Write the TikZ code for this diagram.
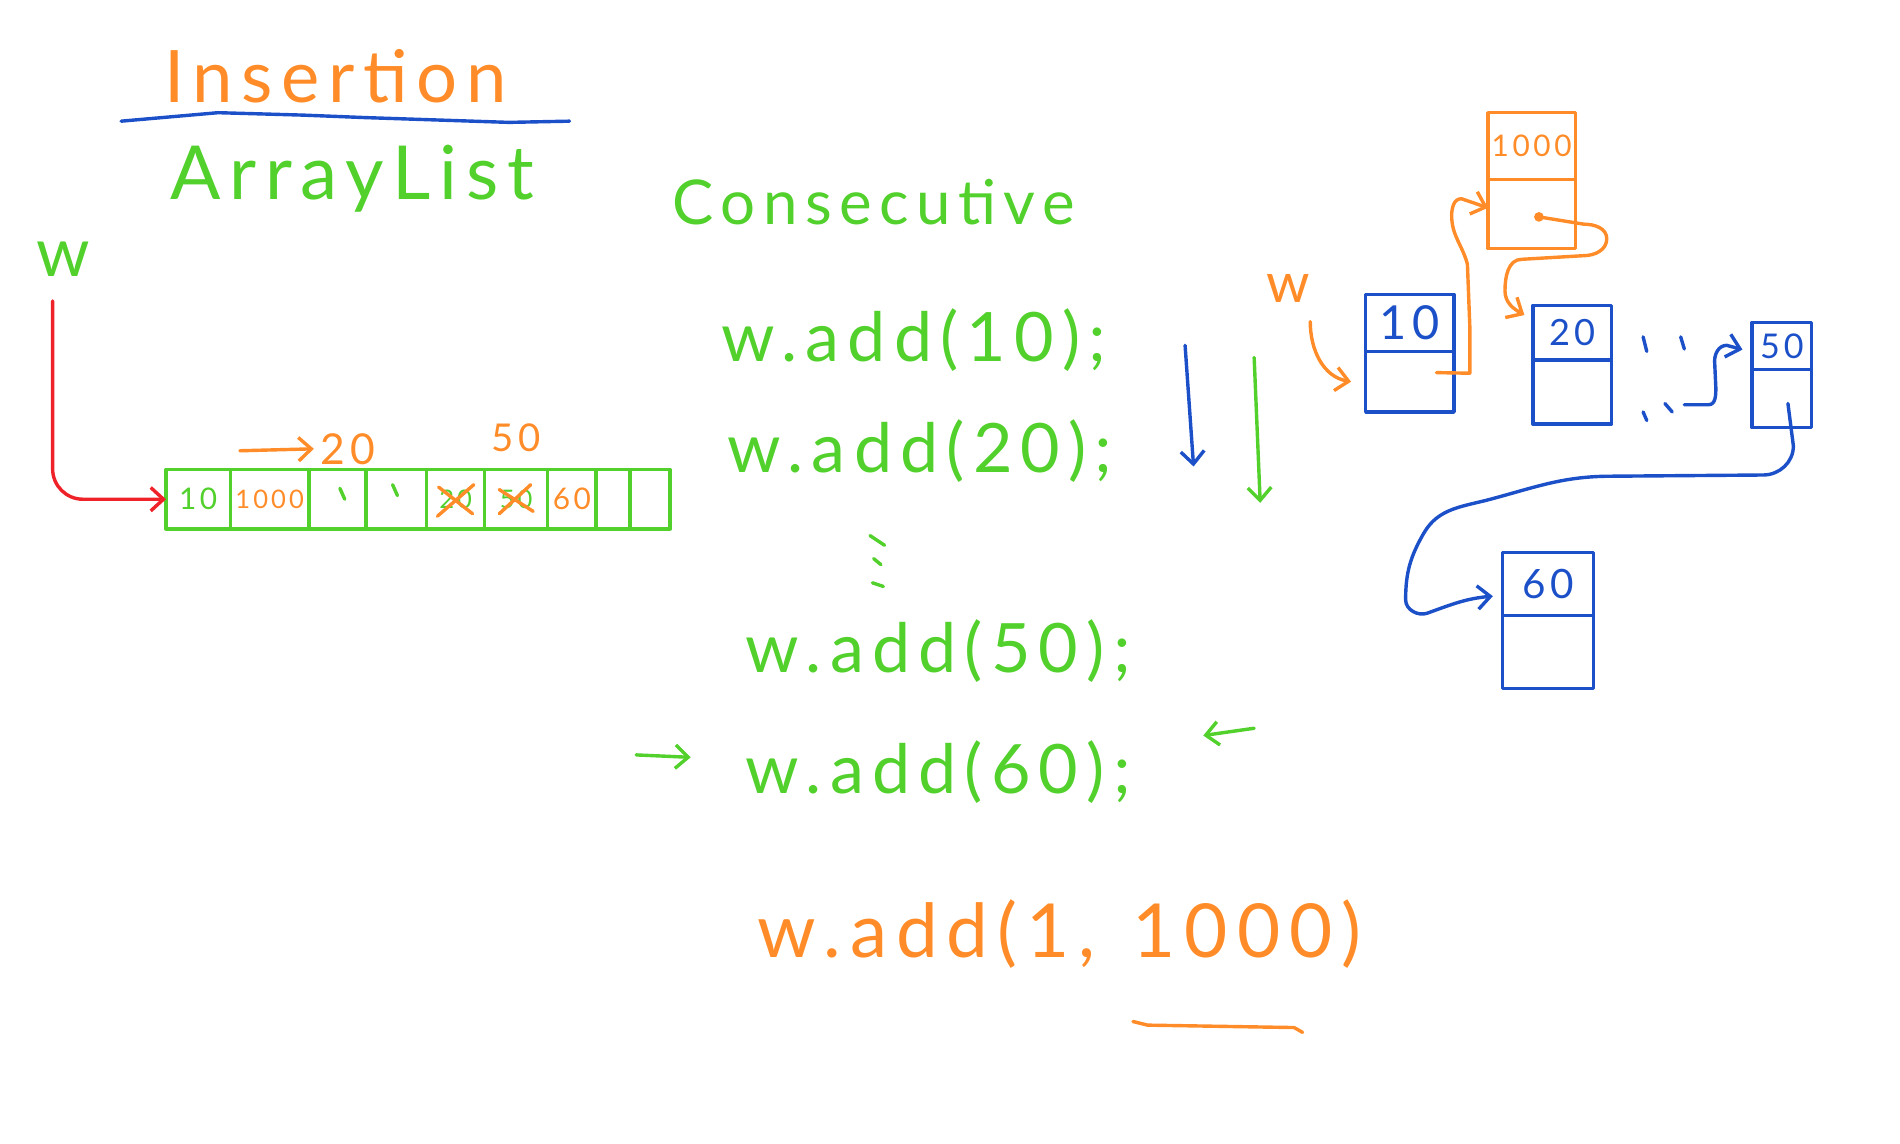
\documentclass[tikz,border=0pt]{standalone}
\usepackage{fontspec}
\setmainfont{Lato}
\newfontfamily\hand[LetterSpace=12]{Lato}
\newcommand{\handsz}[1]{\hand\fontsize{#1}{#1}\selectfont}
\usepackage{xcolor}
\definecolor{pgreen}{RGB}{82,208,44}
\definecolor{porange}{RGB}{255,140,40}
\definecolor{pblue}{RGB}{28,80,200}
\definecolor{pred}{RGB}{238,34,40}
\usetikzlibrary{positioning,arrows.meta}

\begin{document}
\begin{tikzpicture}[x=0.2mm,y=-0.2mm,
  pen/.style={line width=1.6pt,line cap=round,line join=round},
  txt/.style={inner sep=0pt,anchor=base west},
  cell/.style={draw=pgreen,pen,minimum height=9.8mm,inner sep=0pt,outer sep=0pt,font=\handsz{14}},
  valbox/.style={draw=pblue,pen,inner sep=0pt,outer sep=0pt,text=pblue},
  nxtbox/.style={draw=pblue,pen,inner sep=0pt,outer sep=0pt},
  arr/.style={pen,-{Straight Barb[length=6pt,width=11pt]}}]
  \useasboundingbox (0,0) rectangle (1568,944);
  \node[txt,text=porange,font=\handsz{34}](ins) at (135,85){Insertion};
  \draw[pen,pblue](100,100)--(180,93)--(250,95)--(300,97)--(420,101)--(470,100);
  \node[txt,text=pgreen,font=\handsz{35}](alist) at (140,165){ArrayList};
  \node[txt,text=pgreen,font=\handsz{29}](cons) at (555,185){Consecutive};
  \node[txt,text=pgreen,font=\handsz{32}](wg) at (30,228){w};
  \node[cell,minimum width=10.6mm,text=pgreen](c1) at (163.5,412){10};
  \node[cell,minimum width=13mm,right=0pt of c1,text=porange,font=\handsz{12}](c2){1000};
  \node[cell,minimum width=9.4mm,right=0pt of c2](c3){};
  \node[cell,minimum width=10mm,right=0pt of c3](c4){};
  \node[cell,minimum width=9.6mm,right=0pt of c4,text=pgreen,font=\handsz{12}](c5){20};
  \node[cell,minimum width=10.4mm,right=0pt of c5,text=pgreen,font=\handsz{12}](c6){50};
  \node[cell,minimum width=8mm,right=0pt of c6,text=porange](c7){60};
  \node[cell,minimum width=5.6mm,right=0pt of c7](c8){};
  \node[cell,minimum width=6.6mm,right=0pt of c8](c9){};
  \draw[pen,pgreen]([shift={(2,-9)}]c3.center)--([shift={(6,0)}]c3.center);
  \draw[pen,pgreen]([shift={(-3,-12)}]c4.center)--([shift={(1,-3)}]c4.center);
  \draw[pen,porange]([shift={(-14,-10)}]c5.center)--([shift={(14,12)}]c5.center);
  \draw[pen,porange]([shift={(-15,14)}]c5.center)--([shift={(15,-12)}]c5.center);
  \draw[pen,porange]([shift={(-14,-8)}]c6.center)--([shift={(14,10)}]c6.center);
  \draw[pen,porange]([shift={(-14,12)}]c6.center)--([shift={(12,-12)}]c6.center);
  \node[txt,text=porange,font=\handsz{20}](l20) at (264,383){20};
  \coordinate(s20) at (198,372);
  \draw[arr,porange](s20)--([xshift=-1mm]l20.west);
  \node[txt,text=porange,font=\handsz{18}](l50) at (405,373){50};
  \draw[arr,pred,rounded corners=5mm]([xshift=-1.8mm,yshift=-4mm]wg.south)|-(c1.west);
  \node[txt,text=pgreen,font=\handsz{32}](add10) at (595,298){w.add(10);};
  \node[txt,text=pgreen,font=\handsz{32}](add20) at (600,390){w.add(20);};
  \draw[pen,pgreen](718,442)--(730,450);\draw[pen,pgreen](721,461)--(727,466);\draw[pen,pgreen](720,481)--(729,484);
  \node[txt,text=pgreen,font=\handsz{32}](add50) at (615,555){w.add(50);};
  \node[txt,text=pgreen,font=\handsz{32}](add60) at (615,655){w.add(60);};
  \coordinate(s60) at (525,623);\coordinate(e60) at (570,625);
  \draw[arr,pgreen](s60)--(e60);
  \node[txt,text=porange,font=\handsz{35}](add1000) at (625,790){w.add(1,\hspace{0.5em}1000)};
  \draw[pen,porange](935,843)--(947,846)--(1068,848)--(1075,852);
  \coordinate(b1) at (978,285);\coordinate(b2) at (985,385);
  \draw[arr,pblue](b1)--(b2);
  \coordinate(g1) at (1035,295);\coordinate(g2) at (1040,415);
  \draw[arr,pgreen](g1)--(g2);
  \coordinate(g3) at (1035,601);\coordinate(g4) at (993,607);
  \draw[arr,pgreen](g3)--(g4);
  \node[txt,text=porange,font=\handsz{26}](lw) at (1045,250){w};
  \node[valbox,minimum width=14.6mm,minimum height=9.4mm,font=\handsz{22}](v10) at (1163.5,266.5){10};
  \node[nxtbox,minimum width=14.6mm,minimum height=10mm,below=0pt of v10](p10){};
  \node[valbox,draw=porange,text=porange,minimum width=14.4mm,minimum height=11mm,font=\handsz{14}](v1000) at (1264,120.5){1000};
  \node[nxtbox,draw=porange,minimum width=14.4mm,minimum height=11.4mm,below=0pt of v1000](p1000){};
  \node[valbox,minimum width=13mm,minimum height=9mm,font=\handsz{17}](v20) at (1297.5,274.5){20};
  \node[nxtbox,minimum width=13mm,minimum height=10.6mm,below=0pt of v20](p20){};
  \node[valbox,minimum width=9.8mm,minimum height=7.8mm,font=\handsz{16}](v50) at (1470.5,285.5){50};
  \node[nxtbox,minimum width=9.8mm,minimum height=9.6mm,below=0pt of v50](p50){};
  \node[valbox,minimum width=15mm,minimum height=10.4mm,font=\handsz{19}](v60) at (1277.5,482){60};
  \node[nxtbox,minimum width=15mm,minimum height=12mm,below=0pt of v60](p60){};
  \draw[arr,porange]([xshift=3.6mm,yshift=-3mm]lw.south)to[out=-90,in=170]([xshift=-2.4mm]p10.west);
  \draw[arr,porange]([xshift=4.4mm,yshift=1.5mm]p10.center)--(1213,308)--(1213,270)--(1211,218)
    to[out=105,in=-90](1198,178)to[out=90,in=180](1206,164)--([yshift=1mm]p1000.west);
  \coordinate(d1000) at ([xshift=1.2mm,yshift=-0.5mm]p1000.center);
  \fill[porange](d1000)circle(0.8mm);
  \draw[arr,porange](d1000)--(1307,185)to[out=0,in=90](1326,197)to[out=-90,in=0](1307,211)--(1256,214)
    to[out=180,in=90](1242,240)to[out=-90,in=150]([xshift=-1.4mm,yshift=-1.6mm]v20.north west);
  \draw[pen,pblue](1356,278)--(1359,290);\draw[pen,pblue](1387,278)--(1390,288);
  \draw[pen,pblue](1356,340)--(1359,347);\draw[pen,pblue](1374,333)--(1380,340);
  \coordinate(s50) at (1390,334);
  \draw[arr,pblue](s50)--(1410,334)to[out=0,in=-90](1416,320)--(1415,298)to[out=90,in=180](1425,285)
    --([xshift=-1.6mm,yshift=-0.6mm]v50.west);
  \draw[arr,pblue]([xshift=1mm,yshift=-0.8mm]p50.center)--(1480,368)to[out=-90,in=0](1455,392)--(1330,393)
    to[out=180,in=15](1230,412)to[out=195,in=60](1175,440)to[out=240,in=90](1160,495)
    to[out=-90,in=200](1178,506)to[out=20,in=185]([xshift=-1.6mm,yshift=-2mm]v60.west);
\end{tikzpicture}
\end{document}
